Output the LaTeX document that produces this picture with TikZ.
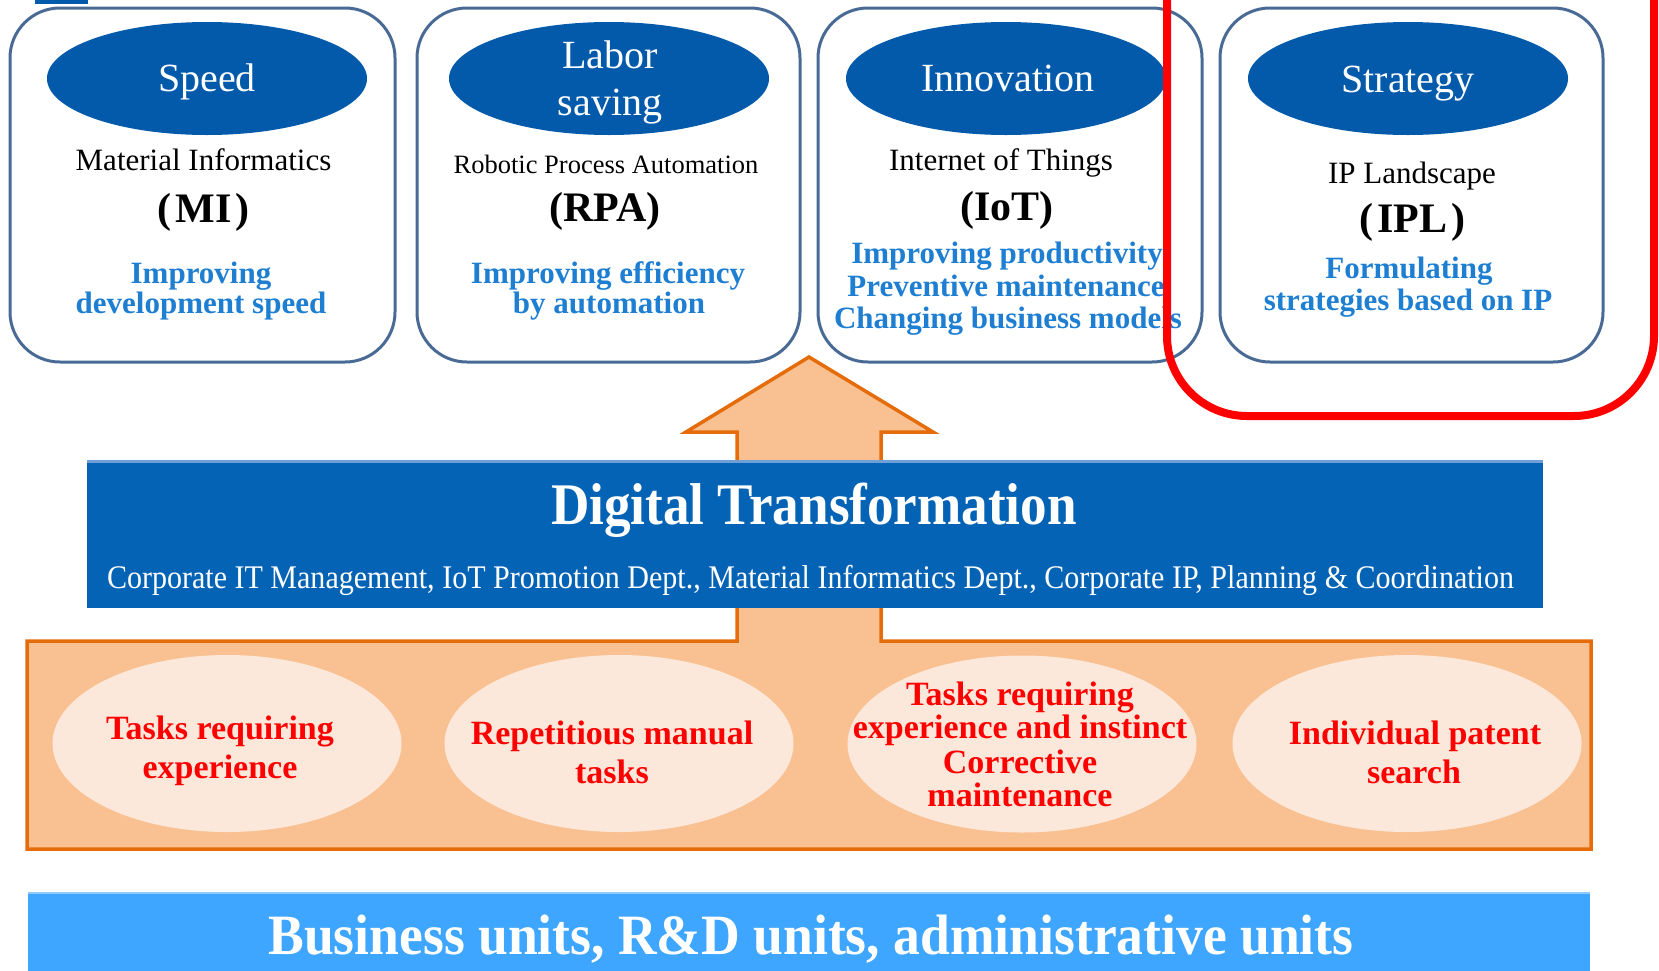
\documentclass[tikz,border=0pt]{standalone}
\usepackage{fontspec}
\setmainfont{Liberation Serif}
\newfontfamily\dtfont[FakeStretch=0.9]{Liberation Serif}
\newfontfamily\subfont[FakeStretch=0.91]{Liberation Serif}
\newfontfamily\barfont[FakeStretch=0.94]{Liberation Serif}
\usetikzlibrary{shapes.geometric}
\definecolor{cardborder}{RGB}{74,106,150}
\definecolor{ellblue}{RGB}{3,90,171}
\definecolor{txtblue}{RGB}{30,127,210}
\definecolor{dtblue}{RGB}{5,99,181}
\definecolor{dtlight}{RGB}{110,160,215}
\definecolor{orline}{RGB}{228,108,10}
\definecolor{orfill}{RGB}{249,193,145}
\definecolor{peach}{RGB}{252,232,218}
\definecolor{barblue}{RGB}{62,166,255}
\definecolor{barlight}{RGB}{140,202,255}
\definecolor{hlred}{RGB}{255,0,0}
\begin{document}
\begin{tikzpicture}[x=1pt,y=-1pt,
  card/.style={draw=cardborder, line width=3pt, rounded corners=50pt, fill=white, minimum height=354pt, inner sep=0pt},
  topell/.style={ellipse, fill=ellblue, minimum width=320pt, minimum height=113pt, inner sep=0pt},
  elltxt/.style={text=white, anchor=base, inner sep=0pt, font=\fontsize{40}{48}\selectfont},
  subtxt/.style={anchor=base, inner sep=0pt, font=\fontsize{31}{36}\selectfont},
  abbr/.style={anchor=base, inner sep=0pt, font=\bfseries\fontsize{42}{48}\selectfont},
  bluetxt/.style={text=txtblue, anchor=base, inner sep=0pt, font=\bfseries\fontsize{31}{31}\selectfont},
  task/.style={ellipse, fill=peach, minimum width=349pt, minimum height=177pt, inner sep=0pt},
  tasktxt/.style={text=hlred, anchor=base, inner sep=0pt, font=\bfseries\fontsize{34}{39}\selectfont},
  redframe/.style={draw=hlred, line width=8pt, rounded corners=80pt, inner sep=0pt}
]
\useasboundingbox (0,0) rectangle (1659,970);
\clip (0,0) rectangle (1659,970);
\fill[white] (0,0) rectangle (1659,970);

% small mark at top left
\fill[ellblue] (35,0) rectangle (88,4);

% top cards
\node[card, minimum width=385pt] (c1) at (202.5,185) {};
\node[card, minimum width=383pt] (c2) at (608.5,185) {};
\node[card, minimum width=384pt] (c3) at (1010,185) {};
\node[card, minimum width=383pt] (c4) at (1411.5,185) {};

\node[topell] (e1) at (207,78.5) {};
\node[topell] (e2) at (609,78.5) {};
\node[topell] (e3) at (1006,78.5) {};
\node[topell] (e4) at (1408,78.5) {};

\node[elltxt] (l1) at (207,91) {Speed};
\node[elltxt] (l2a) at (610,68) {Labor};
\node[elltxt] (l2b) at (610,115) {saving};
\node[elltxt] (l3) at (1008,91) {Innovation};
\node[elltxt] (l4) at (1408,92) {Strategy};

\node[subtxt] (m1) at (203.5,170) {Material Informatics};
\node[subtxt, font=\fontsize{26.5}{30}\selectfont] (m2) at (606,173) {Robotic Process Automation};
\node[subtxt] (m3) at (1001,170) {Internet of Things};
\node[subtxt] (m4) at (1412,183) {IP Landscape};

\node[abbr] (a1) at (203.5,222) {(\kern4pt MI\kern4pt)};
\node[abbr] (a2) at (605,221) {(RPA)};
\node[abbr] (a3) at (1007,220) {(IoT)};
\node[abbr] (a4) at (1412,232) {(\kern4pt IPL\kern4pt)};

\node[bluetxt] (b1a) at (201,283) {Improving};
\node[bluetxt] (b1b) at (201,313) {development speed};
\node[bluetxt] (b2a) at (608,283) {Improving efficiency};
\node[bluetxt] (b2b) at (609,313) {by automation};
\node[bluetxt] (b3a) at (1007,263) {Improving productivity};
\node[bluetxt] (b3b) at (1006,296) {Preventive maintenance};
\node[bluetxt] (b3c) at (1008,328) {Changing business models};
\node[bluetxt] (b4a) at (1409,278) {Formulating};
\node[bluetxt] (b4b) at (1408,310) {strategies based on IP};

% orange arrow + panel
\coordinate (pBL) at (27,849);
\coordinate (pTL) at (27,641);
\coordinate (sL) at (737,641);
\coordinate (sLt) at (737,432);
\coordinate (hL) at (686,432);
\coordinate (tip) at (809,357);
\coordinate (hR) at (933,432);
\coordinate (sRt) at (881,432);
\coordinate (sR) at (881,641);
\coordinate (pTR) at (1591,641);
\coordinate (pBR) at (1591,849);
\draw[orline, fill=orfill, line width=3.5pt, line join=miter]
  (pBL) -- (pTL) -- (sL) -- (sLt) -- (hL) -- (tip) -- (hR) -- (sRt) -- (sR) -- (pTR) -- (pBR) -- cycle;

% Digital Transformation box
\node[fill=dtblue, minimum width=1456pt, minimum height=148pt, inner sep=0pt] (dt) at (815,534) {};
\fill[dtlight] (87,460) rectangle (1543,463);
\node[anchor=base, inner sep=0pt, text=white, font=\dtfont\bfseries\fontsize{59}{64}\selectfont] (dtt) at (814,524) {Digital Transformation};
\node[anchor=base, inner sep=0pt, text=white, font=\subfont\fontsize{33}{36}\selectfont] (dts) at (810.5,588) {Corporate IT Management, IoT Promotion Dept., Material Informatics Dept., Corporate IP, Planning \& Coordination};

% task ellipses
\node[task] (t1) at (227,743.5) {};
\node[task] (t2) at (619,743.5) {};
\node[task] (t3) at (1022,744) {};
\node[task] (t4) at (1407,743.5) {};

\node[tasktxt] (t1a) at (220,739) {Tasks requiring};
\node[tasktxt] (t1b) at (220,778) {experience};
\node[tasktxt] (t2a) at (612,744) {Repetitious manual};
\node[tasktxt] (t2b) at (612,783) {tasks};
\node[tasktxt] (t3a) at (1020,705) {Tasks requiring};
\node[tasktxt] (t3b) at (1020,738) {experience and instinct};
\node[tasktxt] (t3c) at (1020,773) {Corrective};
\node[tasktxt] (t3d) at (1020,806) {maintenance};
\node[tasktxt] (t4a) at (1415,744) {Individual patent};
\node[tasktxt] (t4b) at (1414,783) {search};

% bottom bar
\node[fill=barblue, minimum width=1562pt, minimum height=90pt, inner sep=0pt] (bar) at (809,937) {};
\fill[barlight] (28,892) rectangle (1590,894);
\node[anchor=base, inner sep=0pt, text=white, font=\barfont\bfseries\fontsize{57}{62}\selectfont] (bart) at (811,954) {Business units, R\&D units, administrative units};

% red highlight frame
\node[redframe, minimum width=487pt, minimum height=566pt] (hl) at (1410.5,133) {};
\end{tikzpicture}
\end{document}
